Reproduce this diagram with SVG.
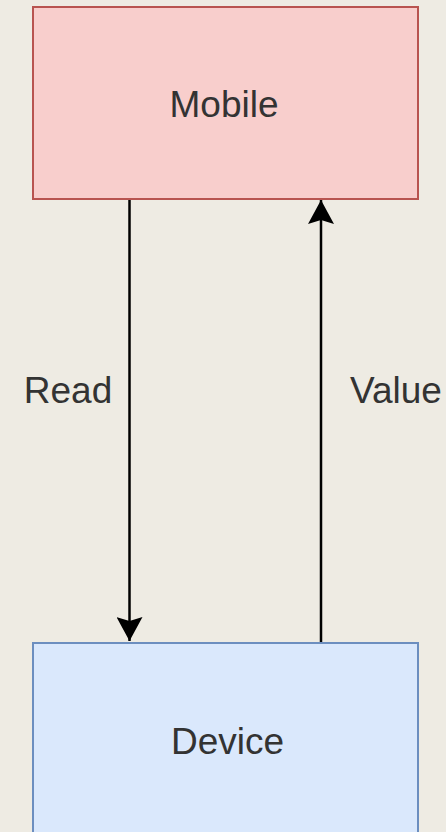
<svg xmlns="http://www.w3.org/2000/svg" width="446" height="832" viewBox="0 0 446 832">
<style>
.lbl{font-family:"Liberation Sans",Arial,sans-serif;font-size:37px;fill:#333333;text-anchor:middle}
.edge{stroke:#000000;stroke-width:2.5;fill:none}
</style>
<defs>
<marker id="arr" viewBox="0 0 24 26" refX="24" refY="13" markerWidth="24" markerHeight="26" markerUnits="userSpaceOnUse" orient="auto">
<path d="M0,0 L24,13 L0,26 L4,13 Z" fill="#000000"/>
</marker>
</defs>
<rect x="0" y="0" width="446" height="832" fill="#eeebe3"/>
<g id="connectors">
<g id="edge-read">
<line class="edge" x1="129.5" y1="199" x2="129.5" y2="641" marker-end="url(#arr)"/>
<text class="lbl" x="68" y="403">Read</text>
</g>
<g id="edge-value">
<line class="edge" x1="321" y1="643" x2="321" y2="200" marker-end="url(#arr)"/>
<text class="lbl" x="396" y="403">Value</text>
</g>
</g>
<g id="mobile">
<rect x="33" y="7" width="385" height="192" fill="#f8cecc" stroke="#b85450" stroke-width="2"/>
<text class="lbl" x="224" y="117">Mobile</text>
</g>
<g id="device">
<rect x="33" y="643" width="385" height="200" fill="#dae8fc" stroke="#6c8ebf" stroke-width="2"/>
<text class="lbl" x="227.5" y="754">Device</text>
</g>
</svg>
